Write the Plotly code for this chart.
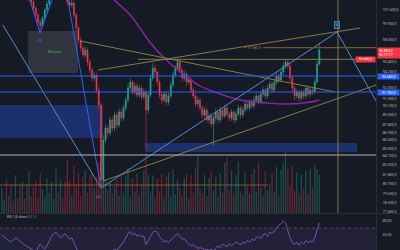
import plotly.graph_objects as go

# ---------------- data ----------------
OPEN = [104800, 105200, 105800, 105400, 106000, 105600, 104900, 105300, 104700, 104200,
        104600, 103900, 103000, 103400, 102560, 101840, 101000, 100160, 99680, 100640,
        101600, 102320, 103040, 103760, 104240, 104600, 104000, 104480, 103760, 103280,
        102560, 102200, 102440, 101000, 99440, 98000, 97040, 96200, 96800, 95360,
        94400, 93440, 93800, 92000, 90200, 81200, 86000, 87440, 86840, 88400,
        87440, 89000, 87800, 89360, 88640, 89840, 90800, 92240, 92960, 91760,
        92480, 91400, 92240, 91160, 91760, 89600, 91400, 93440, 94640, 94160,
        92960, 91400, 90800, 91520, 90560, 91280, 92600, 93800, 94640, 95360,
        94400, 93440, 93920, 92960, 93200, 92000, 91280, 90320, 90800, 89840,
        89000, 89600, 88400, 88880, 87920, 88640, 89360, 88400, 89600, 88880,
        89840, 89120, 88640, 89360, 88400, 89120, 89840, 89000, 89600, 90320,
        89840, 90560, 90080, 90800, 91280, 90560, 91520, 92000, 91280, 92240,
        92720, 92000, 92960, 93680, 93200, 94160, 94880, 95360, 94880, 93440,
        92240, 91280, 91760, 91040, 91760, 91280, 92240, 91520, 92000, 91760,
        92960, 95120]
CLOSE = [105200, 105800, 105400, 106000, 105600, 104900, 105300, 104700, 104200, 104600,
         103900, 103000, 103400, 102560, 101840, 101000, 100160, 99680, 100640, 101600,
         102320, 103040, 103760, 104240, 104600, 104000, 104480, 103760, 103280, 102560,
         102200, 102440, 101000, 99440, 98000, 97040, 96200, 96800, 95360, 94400,
         93440, 93800, 92000, 90200, 81200, 86000, 87440, 86840, 88400, 87440,
         89000, 87800, 89360, 88640, 89840, 90800, 92240, 92960, 91760, 92480,
         91400, 92240, 91160, 91760, 89600, 91400, 93440, 94640, 94160, 92960,
         91400, 90800, 91520, 90560, 91280, 92600, 93800, 94640, 95360, 94400,
         93440, 93920, 92960, 93200, 92000, 91280, 90320, 90800, 89840, 89000,
         89600, 88400, 88880, 87920, 88640, 89360, 88400, 89600, 88880, 89840,
         89120, 88640, 89360, 88400, 89120, 89840, 89000, 89600, 90320, 89840,
         90560, 90080, 90800, 91280, 90560, 91520, 92000, 91280, 92240, 92720,
         92000, 92960, 93680, 93200, 94160, 94880, 95360, 94880, 93440, 92240,
         91280, 91760, 91040, 91760, 91280, 92240, 91520, 92000, 91760, 92960,
         95120, 96800]
HIGH = [105600, 106200, 106100, 106400, 106300, 105900, 105700, 105600, 105000, 104900,
        104900, 104200, 103800, 103700, 102900, 102100, 101300, 100500, 100900, 101900,
        102700, 103300, 104100, 104600, 105000, 104900, 104800, 104700, 104000, 103500,
        102900, 102800, 102700, 101300, 99700, 98400, 97300, 97200, 97100, 95700,
        94700, 94200, 94100, 92400, 90500, 86600, 87900, 87800, 88800, 88700,
        89400, 89300, 89800, 89700, 90200, 91200, 92700, 93400, 93200, 92900,
        92800, 92600, 92500, 92200, 92000, 91800, 93900, 95240, 95000, 94400,
        93200, 91700, 91900, 91800, 91700, 93000, 94200, 95000, 95600, 95500,
        94700, 94300, 94200, 93600, 93500, 92300, 91600, 91200, 91100, 90200,
        90000, 89900, 89300, 89200, 89000, 89800, 89600, 90000, 89900, 90200,
        90100, 89400, 89700, 89600, 89500, 90200, 90100, 90000, 90700, 90600,
        90900, 90800, 91200, 91600, 91500, 91900, 92400, 92300, 92600, 93100,
        93000, 93300, 94100, 94000, 94500, 95300, 95720, 95600, 95100, 93700,
        92500, 92100, 92000, 92100, 92000, 92600, 92500, 92300, 92300, 93400,
        95500, 97640]
LOW = [104500, 104900, 105000, 105100, 105300, 104600, 104600, 104400, 103900, 103900,
       103600, 102700, 102700, 102200, 101500, 100600, 99800, 99200, 99400, 100400,
       101300, 102000, 102800, 103500, 104000, 103700, 103700, 103400, 102900, 102200,
       101800, 101900, 100600, 99000, 97600, 96600, 95800, 95900, 94900, 94000,
       93000, 93100, 91600, 89800, 80240, 80500, 85600, 86300, 86500, 87000,
       87100, 87300, 87500, 88200, 88300, 89500, 90500, 91900, 91400, 91400,
       91000, 91100, 90800, 90900, 84800, 89200, 91100, 93100, 93800, 92500,
       91000, 90300, 90500, 90100, 90200, 91000, 92300, 93500, 94300, 94000,
       93000, 93100, 92500, 92600, 91600, 90900, 89900, 90000, 89400, 88600,
       88700, 88000, 88000, 87500, 85400, 88300, 88000, 88100, 88500, 88600,
       88800, 88200, 88300, 88000, 88100, 88800, 88600, 88700, 89300, 89500,
       89500, 89700, 89800, 90500, 90200, 90300, 91200, 90900, 91000, 91900,
       91600, 91700, 92600, 92800, 92900, 93800, 94500, 94500, 93000, 91800,
       90800, 90900, 90600, 90700, 90900, 91000, 91200, 91200, 91400, 91500,
       92700, 94900]
VOLUME = [820, 440, 1100, 560, 930, 380, 1240, 500, 880, 1020,
          460, 950, 1380, 540, 860, 1050, 490, 1300, 780, 520,
          1150, 640, 1020, 460, 1480, 700, 1120, 480, 1040, 1760,
          1050, 580, 1560, 900, 1320, 560, 1180, 1400, 680, 1260,
          1350, 820, 1180, 1680, 2050, 1880, 1100, 750, 1020, 640,
          880, 1100, 560, 1320, 650, 1200, 1480, 520, 1150, 710,
          1290, 580, 920, 1400, 1960, 1250, 660, 1240, 500, 1150,
          720, 1280, 460, 1180, 1340, 560, 1420, 620, 1100, 830,
          580, 1150, 1320, 480, 1240, 660, 1500, 1920, 780, 640,
          1260, 560, 1140, 1380, 750, 1200, 520, 1310, 680, 1660,
          1820, 750, 1390, 620, 1250, 1700, 720, 580, 1350, 880,
          640, 1290, 1450, 700, 1680, 830, 560, 1380, 750, 970,
          1300, 690, 1520, 580, 1420, 1650, 2000, 1460, 880, 1540,
          720, 1350, 640, 1270, 790, 1380, 620, 1460, 840, 1580,
          1420, 1250]
RSI = [60, 57, 55, 52, 50, 53, 56, 54, 51, 48,
       46, 44, 42, 40, 38, 36, 42, 47, 44, 40,
       45, 52, 58, 62, 64, 60, 56, 59, 62, 58,
       54, 56, 48, 40, 35, 32, 30, 28, 30, 27,
       26, 25, 28, 24, 18, 32, 34, 33, 38, 36,
       40, 38, 42, 46, 50, 56, 62, 65, 60, 63,
       58, 61, 57, 59, 46, 52, 58, 64, 66, 64,
       58, 54, 50, 52, 49, 53, 56, 60, 62, 58,
       54, 55, 50, 47, 45, 46, 43, 41, 42, 40,
       39, 40, 38, 40, 36, 42, 44, 42, 47, 45,
       43, 48, 45, 47, 50, 48, 46, 50, 48, 52,
       50, 54, 52, 56, 58, 55, 60, 62, 58, 64,
       62, 66, 70, 74, 76, 80, 77, 66, 56, 50,
       46, 50, 45, 50, 47, 52, 49, 51, 50, 56,
       68, 77]
RSI_LAST = "80,16"

MA_X = [48, 50, 57, 66, 73, 81, 88, 97, 106, 118, 127, 137, 141]
MA_Y = [103600, 102800, 101000, 97640, 95600, 93800, 92480, 91520, 90800, 90440, 90320, 90560, 90800]

# drawings (bar index, price)
ZIGZAG_X = [0.4, 44, 148.9, 166.2]
ZIGZAG_Y = [99800, 80240, 98960, 90680]
WAVE_X = [10.2, 16.9, 27.0, 44]
WAVE_Y = [104720, 98840, 106340, 80240]
CHAN_A_X = [34.7, 148]
CHAN_A_Y = [97880, 91760]
CHAN_B_X = [42.7, 159.1]
CHAN_B_Y = [94400, 99440]
CHAN_C_X = [44.9, 166.2]
CHAN_C_Y = [81080, 92600]
OLIVE_LEVEL = 95680
OLIVE_LEVEL_X = [60.4, 166.2]
TARGET_LEVEL = 97080
TARGET_X = [115.9, 166.2]
ORANGE_LEVEL = 80600
ORANGE_X = [-0.9, 118.2]
VLINE_X = 149.3
BLUE_LEVELS = [93680, 91760]
WHITE_LEVEL = 84200
BLUE_ZONES = [(-0.9, 44.9, 86240, 90200), (63.6, 157.8, 84560, 85640)]
GRAY_BOX = (11.6, 33.8, 94040, 99080)
BOX_TEXT = "Rottura"
TICK_VALS = [101600, 99900, 98000, 95400, 94200, 92300, 91000, 90100, 89000, 87800,
             86900, 86000, 85000, 84100, 83000, 81800, 80700, 79600, 78500, 77450]
RSI_TICKS = [80, 60, 40]
COUNTDOWN = "02:17:17"


def eu(v, d=1):
    s = f"{v:,.{d}f}"
    return s.replace(",", "X").replace(".", ",").replace("X", ".")


BG = "#161a25"
X = list(range(len(CLOSE)))
UP, DN = "#22ab94", "#f23645"
FS = 3.6
FONT = "Roboto"

fig = go.Figure()

# volume
vcol = ["rgba(34,171,148,0.38)" if c >= o else "rgba(242,54,69,0.38)" for o, c in zip(OPEN, CLOSE)]
fig.add_trace(go.Bar(x=X, y=VOLUME, marker_color=vcol, marker_line_width=0, yaxis="y2",
                     hoverinfo="skip", width=0.55))

# candles
fig.add_trace(go.Candlestick(x=X, open=OPEN, high=HIGH, low=LOW, close=CLOSE,
                             increasing=dict(line=dict(color=UP, width=0.55), fillcolor=UP),
                             decreasing=dict(line=dict(color=DN, width=0.55), fillcolor=DN),
                             whiskerwidth=0, hoverinfo="skip"))

# moving average
fig.add_trace(go.Scatter(x=MA_X, y=MA_Y, mode="lines", line=dict(color="#8e24aa", width=1.4, shape="spline"),
                         hoverinfo="skip"))

LB = "#4a8fd6"
OL = "#8c874b"
fig.add_trace(go.Scatter(x=ZIGZAG_X, y=ZIGZAG_Y, mode="lines", line=dict(color=LB, width=1), hoverinfo="skip"))
fig.add_trace(go.Scatter(x=WAVE_X, y=WAVE_Y, mode="lines", line=dict(color="#2962ff", width=1), hoverinfo="skip"))
for xs, ys in [(CHAN_A_X, CHAN_A_Y), (CHAN_B_X, CHAN_B_Y), (CHAN_C_X, CHAN_C_Y)]:
    fig.add_trace(go.Scatter(x=xs, y=ys, mode="lines", line=dict(color=OL, width=0.9), hoverinfo="skip"))
fig.add_trace(go.Scatter(x=OLIVE_LEVEL_X, y=[OLIVE_LEVEL, OLIVE_LEVEL], mode="lines",
                         line=dict(color=OL, width=0.9), hoverinfo="skip"))
fig.add_trace(go.Scatter(x=TARGET_X, y=[TARGET_LEVEL, TARGET_LEVEL], mode="lines",
                         line=dict(color="#6e5530", width=1.4), hoverinfo="skip"))
fig.add_trace(go.Scatter(x=ORANGE_X, y=[ORANGE_LEVEL, ORANGE_LEVEL], mode="lines",
                         line=dict(color="rgba(190,105,50,0.7)", width=1), hoverinfo="skip"))

# RSI
fig.add_trace(go.Scatter(x=X, y=RSI, mode="lines", line=dict(color="#7e57c2", width=0.9), yaxis="y3",
                         hoverinfo="skip"))

shapes = []
for lv in BLUE_LEVELS:
    shapes.append(dict(type="line", xref="x domain", x0=0, x1=1, yref="y", y0=lv, y1=lv,
                       line=dict(color="#2962ff", width=1)))
shapes.append(dict(type="line", xref="x domain", x0=0, x1=1, yref="y", y0=WHITE_LEVEL, y1=WHITE_LEVEL,
                   line=dict(color="#b2b5be", width=1)))
for x0, x1, y0, y1 in BLUE_ZONES:
    shapes.append(dict(type="rect", xref="x", yref="y", x0=x0, x1=x1, y0=y0, y1=y1,
                       fillcolor="rgba(41,98,255,0.33)", line_width=0, layer="below"))
gx0, gx1, gy0, gy1 = GRAY_BOX
shapes.append(dict(type="rect", xref="x", yref="y", x0=gx0, x1=gx1, y0=gy0, y1=gy1,
                   fillcolor="rgba(120,123,134,0.28)", line_width=0, layer="below"))
shapes.append(dict(type="line", xref="x", x0=VLINE_X, x1=VLINE_X, yref="y domain", y0=0, y1=1,
                   line=dict(color=OL, width=0.9)))
# RSI band and level
shapes.append(dict(type="rect", xref="x domain", x0=0, x1=1, yref="y3", y0=30, y1=70,
                   fillcolor="rgba(126,87,194,0.12)", line_width=0, layer="below"))
shapes.append(dict(type="line", xref="x domain", x0=0, x1=1, yref="y3", y0=70, y1=70,
                   line=dict(color="rgba(120,123,134,0.7)", width=0.7, dash="dot")))
# pane separators
shapes.append(dict(type="line", xref="paper", x0=0, x1=1, yref="paper", y0=0.146, y1=0.146,
                   line=dict(color="#2a2e39", width=1.2)))

ann = []
ann.append(dict(x=WAVE_X[1], y=WAVE_Y[1], text="(3)", showarrow=False, yshift=-7,
                font=dict(color="#2962ff", size=FS + 0.6, family=FONT)))
ann.append(dict(x=ZIGZAG_X[1] - 1, y=ZIGZAG_Y[1], text="(5)", showarrow=False, yshift=-8,
                font=dict(color=LB, size=FS + 0.6, family=FONT)))
ann.append(dict(x=ZIGZAG_X[2], y=ZIGZAG_Y[2], text="B", showarrow=False, yshift=7,
                font=dict(color=LB, size=FS + 0.4, family=FONT), bordercolor=LB, borderwidth=0.8,
                borderpad=0.6, bgcolor="rgba(74,143,214,0.25)"))
ann.append(dict(x=(gx0 + gx1) / 2 + 0.5, y=(gy0 + gy1) / 2 + 100, text=BOX_TEXT, showarrow=False,
                font=dict(color="#4caf50", size=FS + 0.4, family=FONT)))
ann.append(dict(x=TARGET_X[0], y=TARGET_LEVEL, text="P " + eu(TARGET_LEVEL), showarrow=False, xanchor="right",
                font=dict(color="#b07a3a", size=FS, family=FONT)))
# axis tags
ann.append(dict(xref="paper", x=0.943, y=CLOSE[-1], text=eu(CLOSE[-1]) + "<br>" + COUNTDOWN, showarrow=False,
                xanchor="left", yanchor="top", yshift=3, align="left", bgcolor=DN,
                font=dict(color="white", size=FS, family=FONT), borderpad=0.8, width=20))
ann.append(dict(x=161.5, y=OLIVE_LEVEL, text=eu(OLIVE_LEVEL), showarrow=False, bgcolor=DN,
                font=dict(color="white", size=FS, family=FONT), borderpad=0.4, width=18))
for lv in BLUE_LEVELS:
    ann.append(dict(xref="paper", x=0.943, y=lv, text=eu(lv), showarrow=False, xanchor="left",
                    bgcolor="#2962ff", font=dict(color="white", size=FS, family=FONT), borderpad=0.6, width=20))
ann.append(dict(xref="paper", x=0.012, yref="paper", y=0.118, xanchor="left",
                text="RSI 14 close <span style='color:#7e57c2'>" + RSI_LAST + "</span>", showarrow=False,
                font=dict(color="#b2b5be", size=FS, family=FONT)))

fig.update_layout(
    width=400, height=250, margin=dict(l=0, r=0, t=0, b=0),
    paper_bgcolor=BG, plot_bgcolor=BG, showlegend=False,
    shapes=shapes, annotations=ann, bargap=0.3,
    xaxis=dict(domain=[0, 0.94], range=[-0.89, 166.2], visible=False, rangeslider=dict(visible=False),
               fixedrange=True),
    yaxis=dict(domain=[0.148, 1], range=[77240, 102800], side="right", showgrid=False, zeroline=False,
               tickvals=TICK_VALS, ticktext=[eu(v) for v in TICK_VALS], ticks="", ticklabelstandoff=5,
               tickfont=dict(color="#b2b5be", size=FS, family=FONT), showline=True, linecolor="#2a2e39",
               linewidth=1, automargin=False),
    yaxis2=dict(overlaying="y", range=[0, 7000], visible=False),
    yaxis3=dict(domain=[0, 0.14], range=[38.6, 88.6], side="right", anchor="x", showgrid=False, zeroline=False,
                tickvals=RSI_TICKS, ticktext=[eu(v, 2) for v in RSI_TICKS], ticks="", ticklabelstandoff=5,
                tickfont=dict(color="#b2b5be", size=FS, family=FONT), showline=True, linecolor="#2a2e39",
                linewidth=1, automargin=False),
)

fig.write_html("out.html")
